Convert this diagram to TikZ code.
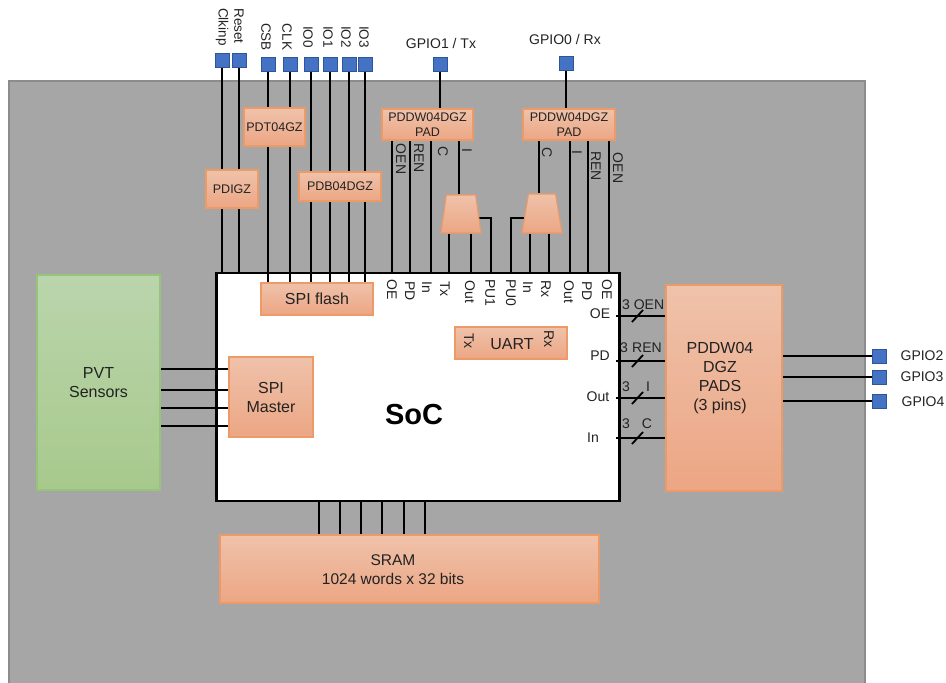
\documentclass[tikz,border=0pt]{standalone}
\usepackage{fontspec}
\setmainfont{Liberation Sans}
\usetikzlibrary{shapes.geometric}
\definecolor{chipgray}{HTML}{A6A6A6}
\definecolor{chipedge}{HTML}{8C8C8C}
\definecolor{orangeT}{HTML}{EFC2AA}
\definecolor{orangeB}{HTML}{ECA684}
\definecolor{orangeE}{HTML}{EB9A68}
\definecolor{greenT}{HTML}{BAD5AC}
\definecolor{greenB}{HTML}{A7C98C}
\definecolor{greenE}{HTML}{96C47A}
\definecolor{padblue}{HTML}{4472C4}
\definecolor{padedge}{HTML}{2F5597}
\definecolor{inktext}{HTML}{222222}
\pgfdeclarelayer{bgl}
\pgfdeclarelayer{wirel}
\pgfsetlayers{bgl,wirel,main}
\tikzset{
  block/.style={draw=orangeE,line width=1.1pt,top color=orangeT,bottom color=orangeB,
    inner sep=0pt,text=inktext,align=center,font=\fontsize{16}{19}\selectfont},
  smallblock/.style={block,font=\fontsize{12.5}{15}\selectfont},
  pvtblock/.style={block,draw=greenE,top color=greenT,bottom color=greenB},
  muxshape/.style={block,trapezium,trapezium stretches=true,minimum width=40pt,inner sep=1pt},
  padsq/.style={draw=padedge,line width=.8pt,fill=padblue,minimum size=14pt,inner sep=0pt},
  socbox/.style={draw=black,line width=2.3pt,fill=white,inner sep=0pt},
  wire/.style={draw=black,line width=2.3pt},
  slash/.style={draw=black,line width=1.8pt},
  lab/.style={inner sep=0pt,text=inktext,font=\fontsize{14}{16}\selectfont},
  vlab/.style={lab,rotate=-90},
  vlabS/.style={vlab,font=\fontsize{13.5}{16}\selectfont},
}
\begin{document}
\begin{tikzpicture}[x=1pt,y=-1pt]
\useasboundingbox (0,0) rectangle (946,683);
% ---------- main nodes
\begin{pgfonlayer}{bgl}
  \fill[chipgray] (9,81) rectangle (865,683);
  \draw[chipedge,line width=1.5pt] (9,683) -- (9,81) -- (865,81) -- (865,683);
  \node[socbox,minimum width=403pt,minimum height=228pt] (soc) at (418,387) {};
\end{pgfonlayer}
\node[smallblock,minimum width=52pt,minimum height=38pt] (pdigz) at (232,189) {PDIGZ};
\node[smallblock,minimum width=61pt,minimum height=38pt] (pdt) at (274.5,127) {PDT04GZ};
\node[smallblock,minimum width=82pt,minimum height=29pt] (pdb) at (340,186.5) {PDB04DGZ};
\node[block,minimum width=112pt,minimum height=32pt] (flash) at (317,299) {SPI flash};
\node[smallblock,minimum width=91pt,minimum height=31pt] (pddwL) at (427.5,124.5) {PDDW04DGZ\\PAD};
\node[smallblock,minimum width=92pt,minimum height=31pt] (pddwR) at (569,124.5) {PDDW04DGZ\\PAD};
\node[muxshape,trapezium left angle=80,trapezium right angle=80,minimum height=38pt] (muxL) at (461,214) {\phantom{x}};
\node[muxshape,trapezium left angle=77,trapezium right angle=77,minimum height=39pt] (muxR) at (542,213.5) {\phantom{x}};
\node[block,minimum width=112pt,minimum height=32pt] (uart) at (511,343) {};
\node[block,minimum width=116pt,minimum height=206pt] (pads3) at (724,388) {};
\node[pvtblock,minimum width=123pt,minimum height=215pt] (pvt) at (98.5,382.5) {PVT\\Sensors};
\node[block,minimum width=84pt,minimum height=80pt] (spim) at (271,397) {SPI\\Master};
\node[block,minimum width=379pt,minimum height=68pt] (sram) at (409.5,569) {};
% ---------- pins
\node[padsq] (pClk) at (222,60) {};
\node[padsq] (pRst) at (239,60) {};
\node[padsq] (pCsb) at (268,64) {};
\node[padsq] (pSck) at (290,64) {};
\node[padsq] (pIo0) at (311,64) {};
\node[padsq] (pIo1) at (330,64) {};
\node[padsq] (pIo2) at (349,64) {};
\node[padsq] (pIo3) at (365,64) {};
\node[padsq] (pTx) at (440,64) {};
\node[padsq] (pRx) at (566,63) {};
\node[padsq] (pG2) at (879,356) {};
\node[padsq] (pG3) at (879,377) {};
\node[padsq] (pG4) at (879,401) {};
% ---------- connectors
\begin{pgfonlayer}{wirel}
  \foreach \p in {pClk,pRst} \draw[wire] (\p) -- (\p |- soc.north);
  \foreach \p in {pCsb,pSck,pIo0,pIo1,pIo2,pIo3} \draw[wire] (\p) -- (\p |- flash.north);
  \draw[wire] (pTx) -- (pTx |- pddwL.north);
  \draw[wire] (pRx) -- (pRx |- pddwR.north);
  \foreach \x in {392,410,431} \draw[wire] (\x,0 |- pddwL.south) -- (\x,0 |- soc.north);
  \foreach \x in {570,588,609} \draw[wire] (\x,0 |- pddwR.south) -- (\x,0 |- soc.north);
  \draw[wire] (459,0 |- pddwL.south) -- (459,0 |- muxL.north);
  \draw[wire] (539,0 |- pddwR.south) -- (539,0 |- muxR.north);
  \foreach \x in {449,471} \draw[wire] (\x,0 |- muxL.south) -- (\x,0 |- soc.north);
  \foreach \x in {530,549} \draw[wire] (\x,0 |- muxR.south) -- (\x,0 |- soc.north);
  \coordinate (pu1a) at (476,218);
  \coordinate (pu1b) at (491,273);
  \coordinate (pu0a) at (526,218);
  \coordinate (pu0b) at (511,273);
  \draw[wire] (pu1a) -| (pu1b);
  \draw[wire] (pu0a) -| (pu0b);
  \foreach \y in {369,390,408,426} \draw[wire] (0,\y -| pvt.east) -- (0,\y -| spim.west);
  \foreach \x in {319,340,361,382,404,425} \draw[wire] (\x,0 |- soc.south) -- (\x,0 |- sram.north);
  \foreach \y in {316,361,398,438} {
    \coordinate (bus) at (616,\y);
    \draw[wire] (bus) -- (bus -| pads3.west);
    \draw[slash] (632,\y+6) -- (643,\y-6);
  }
  \draw[wire] (pads3.east |- pG2) -- (pG2);
  \draw[wire] (pads3.east |- pG3) -- (pG3);
  \draw[wire] (pads3.east |- pG4) -- (pG4);
\end{pgfonlayer}
% ---------- texts
\node[vlabS] (tClk) at (222,27) {Clkinp};
\node[vlabS] (tRst) at (239,26) {Reset};
\node[vlabS] (tCsb) at (266,37) {CSB};
\node[vlabS] (tSck) at (287,37) {CLK};
\node[vlabS] (tIo0) at (308,37) {IO0};
\node[vlabS] (tIo1) at (328,37) {IO1};
\node[vlabS] (tIo2) at (346,37) {IO2};
\node[vlabS] (tIo3) at (364,37) {IO3};
\node[lab] (tTx) at (441,43) {GPIO1 / Tx};
\node[lab] (tRx) at (565,39) {GPIO0 / Rx};
\node[vlab] (a1) at (401,159) {OEN};
\node[vlab] (a2) at (419,158) {REN};
\node[vlab] (a3) at (443,152) {C};
\node[vlab] (a4) at (467,150) {I};
\node[vlab] (a5) at (547,153) {C};
\node[vlab] (a6) at (577,152) {I};
\node[vlab] (a7) at (596,166) {REN};
\node[vlab] (a8) at (618,168) {OEN};
\node[vlab] (b1) at (392,290) {OE};
\node[vlab] (b2) at (410,291) {PD};
\node[vlab] (b3) at (427,287) {In};
\node[vlab] (b4) at (445,289) {Tx};
\node[vlab] (b5) at (470,292) {Out};
\node[vlab] (b6) at (490,293) {PU1};
\node[vlab] (b7) at (511,293) {PU0};
\node[vlab] (b8) at (528,287) {In};
\node[vlab] (b9) at (546,289) {Rx};
\node[vlab] (b10) at (569,292) {Out};
\node[vlab] (b11) at (587,291) {PD};
\node[vlab] (b12) at (607,290) {OE};
\node[vlab] (u1) at (469,341) {Tx};
\node[lab,font=\fontsize{16}{19}\selectfont] (u2) at (512,344) {UART};
\node[vlab] (u3) at (549,339) {Rx};
\node[lab] (c1) at (600,314) {OE};
\node[lab] (c2) at (600,356) {PD};
\node[lab] (c3) at (598,397) {Out};
\node[lab] (c4) at (593,438) {In};
\node[lab] (d1) at (626,305) {3};
\node[lab] (d2) at (649,305) {OEN};
\node[lab] (d3) at (624,348) {3};
\node[lab] (d4) at (647,348) {REN};
\node[lab] (d5) at (626,387) {3};
\node[lab] (d6) at (648,387) {I};
\node[lab] (d7) at (626,424) {3};
\node[lab] (d8) at (647,424) {C};
\node[lab,font=\fontsize{16}{19}\selectfont,align=center] (padsT) at (720,378) {PDDW04\\DGZ\\PADS\\(3 pins)};
\node[lab] (g2) at (922,356) {GPIO2};
\node[lab] (g3) at (922,377) {GPIO3};
\node[lab] (g4) at (923,402) {GPIO4};
\node[lab,font=\fontsize{15.5}{19}\selectfont,align=center] (sramT) at (393,570) {SRAM\\1024 words x 32 bits};
\node[lab,text=black,font=\fontsize{29}{32}\selectfont\bfseries] (socT) at (414,415) {SoC};
\end{tikzpicture}
\end{document}
